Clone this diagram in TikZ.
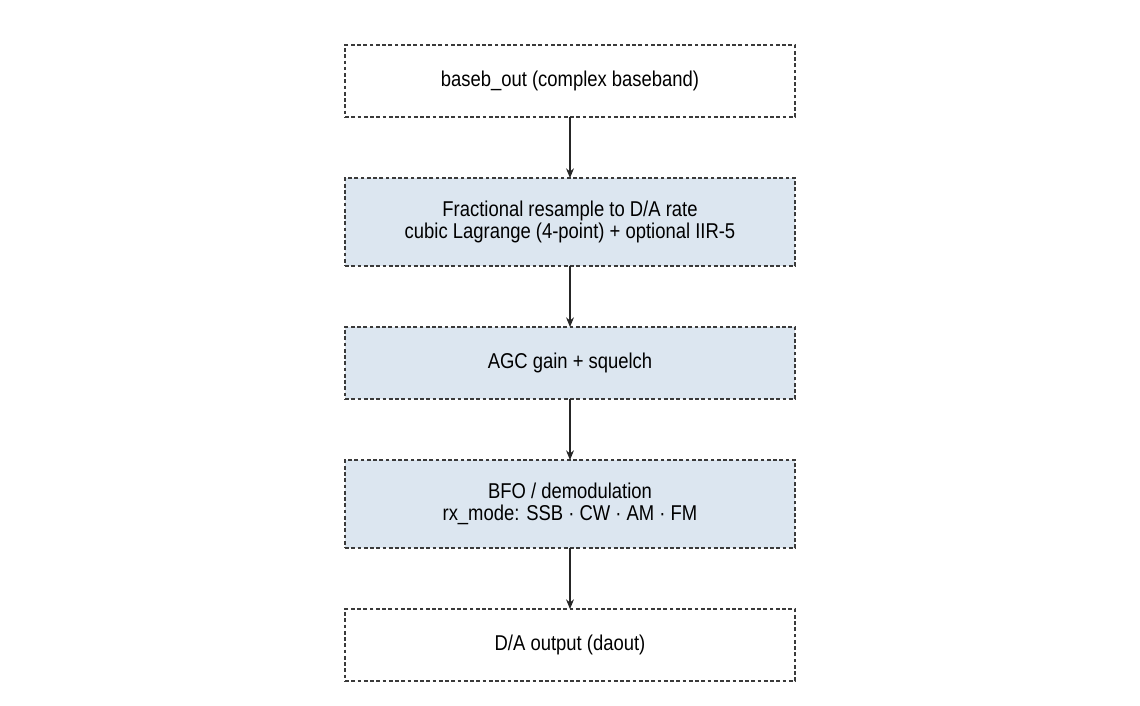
\documentclass[tikz,border=0pt]{standalone}
\usepackage{fontspec}
\setmainfont{Liberation Sans}[FakeStretch=0.86]
\usepackage{xcolor}
\usetikzlibrary{positioning, arrows.meta}
\definecolor{blockfill}{HTML}{DCE6F0}
\definecolor{blockline}{HTML}{3A3A3A}
\tikzset{
  block/.style={draw=blockline, line width=0.85pt, dash pattern=on 0.075cm off 0.05cm,
    minimum width=9cm, minimum height=1.44cm, align=center, outer sep=0pt,
    font=\fontsize{12.2}{12.6}\selectfont},
  stage/.style={block, fill=blockfill},
  tall/.style={minimum height=1.76cm},
  flow/.style={-{Stealth[length=5.5pt,width=4.5pt]}, line width=0.65pt, draw=black!85}
}
\begin{document}
\begin{tikzpicture}
				  \useasboundingbox (0,0) rectangle (22.8,-14.1);
				  \node[block] (bbout) at (11.4,-1.62) {baseb\_out (complex baseband)};
				  \node[stage, tall, below=1.22cm of bbout] (resamp) {Fractional resample to D/A rate\\cubic Lagrange (4-point) + optional IIR-5};
				  \node[stage, below=1.22cm of resamp] (agc) {AGC gain + squelch};
				  \node[stage, tall, below=1.22cm of agc] (demod) {BFO / demodulation\\rx\_mode: SSB · CW · AM · FM};
				  \node[block, below=1.22cm of demod] (daout) {D/A output (daout)};
				  \draw[flow] (bbout) -- (resamp);
				  \draw[flow] (resamp) -- (agc);
				  \draw[flow] (agc) -- (demod);
				  \draw[flow] (demod) -- (daout);
				\end{tikzpicture}
\end{document}
